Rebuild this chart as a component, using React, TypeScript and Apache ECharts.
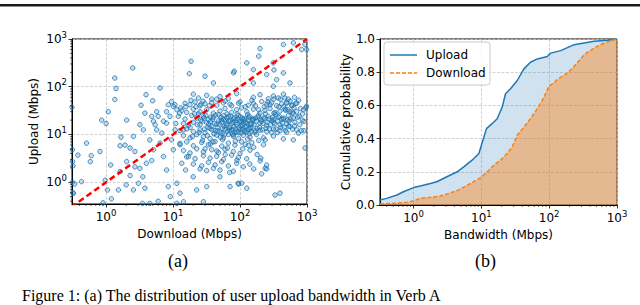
import React, { useEffect, useRef } from "react";
import * as echarts from "echarts";

// ---------- Data ----------
// (a) scatter: [download Mbps, upload Mbps]
const sparsePoints: [number, number][] = [
  [2.5, 248], [1.35, 152], [1.41, 92], [1.35, 54], [18.6, 342], [17.5, 188], [0.31, 37], [0.86, 20],
  [1.08, 30], [1.0, 17], [2.03, 20], [1.67, 8.8], [1.62, 5.8], [3.95, 68], [3.33, 41], [4.97, 51],
  [6.4, 94], [30, 166], [40, 120], [82, 211], [80, 195], [199, 630], [190, 436], [444, 765],
  [625, 830], [832, 601], [933, 765], [314, 316], [126, 316], [158, 228], [250, 180], [352, 141],
  [557, 120], [321, 225], [444, 195], [158, 120], [980, 39], [960, 36], [887, 33], [935, 5.2],
  [900, 18.8], [990, 600],
];
const lowPoints: [number, number][] = [
  [0.43, 1.03], [0.34, 0.92], [0.325, 0.59], [0.58, 2.7], [0.6, 3.6], [0.81, 4.4], [0.97, 1.1],
  [1.05, 0.69], [1.17, 2.3], [1.53, 0.69], [2.0, 0.88], [2.28, 1.38], [2.56, 0.69], [3.04, 0.95],
  [3.53, 1.3], [3.8, 0.75], [3.2, 1.96], [4.0, 2.5], [4.8, 2.85], [5.1, 4.8], [6.4, 6.6], [5.7, 12.5],
  [6.8, 10.7], [8.0, 17.3], [9.0, 24], [10.1, 38.8], [7.2, 19], [9.5, 7.7], [7.2, 3.45], [8.0, 1.8],
  [8.5, 0.81], [9.1, 0.5], [11.4, 0.95], [12.7, 0.59], [14.3, 0.39], [11.4, 0.36], [20, 1.3],
  [22.5, 0.69], [28.4, 0.39], [31.8, 0.81], [50, 1.3], [71, 0.81], [94, 0.95], [106, 0.95],
  [126, 0.75], [237, 1.96], [333, 0.54], [395, 0.59], [204, 3.2], [224, 6.1], [237, 7.7], [250, 2.3],
  [321, 28], [496, 45], [625, 7.7], [744, 10.7], [557, 14.7], [625, 28], [468, 58], [314, 102],
  [0.9, 0.37], [3.5, 0.36], [4.5, 0.36], [1.2, 0.45], [6, 0.4], [0.315, 4.8], [0.315, 2.7],
  [0.315, 1.0], [0.32, 0.6],
];
const leftClusterPoints: [number, number][] = [
  [1.62, 1.67], [1.92, 6.0], [2.56, 9.1], [2.7, 2.1], [3.2, 16], [3.8, 28], [4.5, 7.7], [5.1, 19],
  [4.8, 24], [6.0, 24], [5.7, 30], [5.4, 16], [8.0, 30], [8.5, 42], [9.5, 49], [10.7, 42], [11.4, 33],
  [10.7, 12.5], [10.1, 4.8], [12.7, 6.1], [13.5, 2.5], [15.4, 1.8], [17, 3.45], [14.3, 12.5],
  [3.6, 12.5], [2.7, 4.4], [2.28, 5.2], [2.03, 2.7], [0.51, 6.6], [0.38, 3.7], [0.32, 2.2],
];
const mainClusterPoints: [number, number][] = [
  [20.1, 70], [23.9, 58], [31.8, 66], [37.8, 55], [50.3, 62], [67, 57], [89, 72], [158, 60], [199, 68],
  [265, 56], [315, 64], [373, 58], [444, 70], [526, 55],
  [15.1, 45], [17.9, 42], [21.3, 48], [25.3, 40], [30, 44], [37.8, 47], [44.9, 41], [56.4, 46], [71, 43],
  [100, 48], [133, 41], [158, 45], [211, 49], [250, 42], [297, 46], [352, 40], [419, 44], [498, 47],
  [590, 41], [701, 45],
  [13.5, 32], [16, 29], [20.1, 34], [25.3, 30], [31.8, 33], [40, 28], [50.3, 31], [59.7, 35], [75, 29],
  [89, 33], [126, 30], [158, 34], [199, 28], [236, 32], [281, 35], [333, 29], [395, 31], [470, 34], [557, 30],
  [12, 24], [15.1, 21], [19, 25], [22.6, 22], [28.4, 24], [33.7, 20.5], [40, 23], [47.5, 26], [56.4, 21],
  [67, 24], [79.5, 22], [94.5, 25], [112, 20.5], [133, 23], [158, 21], [188, 25], [223, 22], [265, 24],
  [315, 20.5], [373, 23], [444, 21], [526, 25], [625, 22],
  [14.3, 17], [16.9, 15.5], [20.1, 18], [25.3, 16], [31.8, 17.5], [37.8, 15], [44.9, 16.5], [53.3, 18],
  [63.2, 15.5], [75, 17], [89, 16], [106, 18], [126, 15], [149, 16.5], [199, 17.5], [250, 15.5],
  [315, 18], [395, 16], [498, 17],
  [12.7, 12], [16, 13], [20.1, 11.5], [25.3, 12.5], [30, 11], [35.7, 13.5], [42.4, 12], [50.3, 11.3],
  [59.7, 13], [71, 12], [84, 11], [100, 12.8], [119, 11.6], [141, 13.2], [167, 11.2], [199, 12.3],
  [250, 11.5], [315, 13], [395, 12], [498, 11.2], [701, 12.5],
  [14.3, 9.5], [17.9, 8.5], [22.6, 10], [28.4, 9], [35.7, 8.2], [44.9, 9.7], [56.4, 8.6], [67, 10],
  [79.5, 9.2], [94.5, 8.3], [112, 9.6], [141, 8.8], [177, 10], [223, 8.5], [315, 9.3], [444, 8.1],
  [12.7, 6.5], [16, 7], [20.1, 5.8], [26.8, 6.8], [33.7, 6.1], [42.4, 7.1], [53.3, 5.7], [67, 6.6],
  [84, 6], [106, 7], [133, 5.9],
  [14.3, 4.6], [17.9, 4.1], [22.6, 5], [28.4, 4.3], [37.8, 4.8], [47.5, 4.2], [59.7, 4.9], [79.5, 4.4],
  [100, 4], [141, 4.7],
  [16, 3.4], [21.3, 3.1], [28.4, 3.6], [35.7, 3.2], [44.9, 3.5], [56.4, 3], [75, 3.7], [94.5, 3.3], [126, 3.1],
  [20.1, 2.4], [26.8, 2.2], [33.7, 2.6], [42.4, 2.3], [53.3, 2.7], [67, 2.2], [89, 2.5], [112, 2.1],
  [25.3, 1.9], [31.8, 1.75], [40, 1.95], [50.3, 1.8], [79.5, 1.7],
];
const denseCorePoints: [number, number][] = [
  [27, 19], [29, 22], [33, 14], [36, 18.5], [39, 21], [41, 10.3], [46, 14], [48, 19.5], [52, 23], [54, 10.5],
  [58, 15], [61, 20], [64, 27], [69, 13], [72, 19], [77, 10.2], [81, 14.5], [86, 20], [91, 27], [96, 11],
  [103, 15], [108, 22], [115, 12], [122, 18], [130, 26], [137, 10.4], [145, 14], [152, 19.5], [170, 22],
  [180, 13.5], [210, 19], [240, 27], [275, 13], [300, 19.5], [340, 26], [360, 11], [420, 21], [460, 14],
  [540, 19], [600, 28], [650, 15], [760, 24], [850, 20], [900, 12],
  [11, 17], [12.5, 28], [13, 36], [15.5, 38], [18.5, 52], [22, 38], [24, 27], [26, 43], [28, 50], [35, 40],
  [45, 55], [60, 50], [75, 40], [95, 45], [105, 36], [120, 38], [150, 52], [170, 40], [190, 33], [230, 38],
  [260, 48], [280, 42], [320, 55], [380, 38], [480, 32], [560, 50], [640, 36], [680, 45],
  [120, 6.2], [160, 5.4], [180, 3.8], [200, 2.8], [210, 1.5], [250, 1.9],
];
const extraCorePoints: [number, number][] = [
  [18, 14], [19.5, 9], [21, 27], [23, 16], [24.5, 11], [26, 20], [27.5, 7.5], [29.5, 13], [31, 25],
  [32.5, 9.5], [34, 16.5], [36.5, 23], [38, 12.5], [39.5, 7], [41.5, 17], [43, 25.5], [46.5, 12],
  [49, 16.5], [51, 8.8], [52.5, 20], [55, 13.5], [57, 25], [59, 10], [62, 17], [63.5, 22.5], [65.5, 11.8],
  [68, 19], [70, 14], [73, 24], [76, 12.8], [78, 18], [80, 9.8], [83, 22], [85, 13], [88, 17.8], [90, 11.5],
  [92, 21], [97, 14], [99, 18.5], [101, 23.5], [104, 10.8], [107, 16], [110, 13], [113, 19], [117, 21.5],
  [119, 14.5], [124, 11], [128, 17], [132, 20], [135, 13], [139, 24], [143, 16.5], [147, 11.5], [155, 21],
  [162, 16], [168, 12], [175, 19], [185, 23], [195, 14], [205, 20.5], [215, 12.5], [220, 17], [235, 22],
  [245, 13.5], [255, 18], [270, 21], [285, 16], [295, 11], [310, 23], [330, 17], [345, 13], [365, 19],
  [385, 24], [405, 14], [430, 17.5], [450, 22], [475, 12], [510, 20], [530, 15], [570, 21], [610, 13],
  [660, 18], [720, 23], [780, 16], [820, 12], [860, 27],
  [30, 5], [36, 6.3], [45, 4.5], [55, 7.8], [65, 5.2], [85, 7.2], [110, 5], [130, 8], [150, 6.8], [190, 7.5],
  [60, 3.8], [90, 2.9], [70, 1.6], [140, 2.4], [160, 1.9], [95, 0.92],
  [400, 55], [450, 38], [520, 33], [600, 40], [700, 30], [750, 52], [800, 35], [650, 60],
];
const diagonal: [number, number][] = [[0.3, 0.3], [1000, 1000]];

// (b) CDFs: [bandwidth Mbps, cumulative probability]
const uploadCdf: [number, number][] = [
  [0.32, 0.03], [0.4, 0.04], [0.57, 0.06], [0.71, 0.08], [1.0, 0.105], [1.26, 0.115], [1.77, 0.13],
  [2.2, 0.14], [3.1, 0.17], [4.4, 0.2], [5.5, 0.23], [7.3, 0.27], [9.2, 0.31], [10, 0.36], [10.9, 0.41],
  [11.9, 0.46], [14.4, 0.49], [17.1, 0.52], [20.3, 0.59], [22.7, 0.67], [26.9, 0.7], [33.8, 0.75],
  [42.4, 0.82], [53, 0.86], [66.7, 0.88], [93.8, 0.895], [105, 0.915], [148, 0.93], [233, 0.966],
  [327, 0.976], [460, 0.986], [724, 0.992], [1000, 1.0],
];
const downloadCdf: [number, number][] = [
  [0.32, 0.006], [0.51, 0.01], [0.8, 0.016], [1.0, 0.026], [1.25, 0.04], [1.77, 0.046], [2.48, 0.054],
  [3.1, 0.066], [4.4, 0.087], [6.2, 0.119], [8.6, 0.151], [10.2, 0.171], [12.2, 0.2], [15.3, 0.24],
  [19.1, 0.27], [24, 0.31], [28.5, 0.35], [33.8, 0.42], [42.4, 0.47], [53, 0.52], [66.7, 0.58],
  [79, 0.63], [99, 0.714], [132, 0.755], [185, 0.795], [233, 0.835], [327, 0.905], [460, 0.946],
  [646, 0.976], [859, 0.992], [1000, 1.0],
];
const legendLabels = ["Upload", "Download"];

const A_XMIN = 0.31;
const A_YMIN = 0.35;
const B_XMIN = 0.32;
const LOG_MAX = 1000;
const minorMultipliers = [2, 3, 4, 5, 6, 7, 8, 9];
const decades = [0.1, 1, 10, 100];

const FONT = "DejaVu Sans";
const BLUE = "#1f77b4";
const ORANGE = "#ff7f0e";

function minorTicks(min: number, max: number): number[] {
  const out: number[] = [];
  decades.forEach((d) => minorMultipliers.forEach((m) => {
    const v = d * m;
    if (v > min && v < max) out.push(v);
  }));
  return out;
}

const pow10Label = (v: number) => {
  const e = Math.log10(v);
  const r = Math.round(e);
  if (Math.abs(e - r) > 1e-3) return "";
  return `{b|10}{s|${r}}`;
};

const powRich = {
  b: { fontSize: 12, lineHeight: 18, fontFamily: FONT, color: "#000" },
  s: { fontSize: 8.5, lineHeight: 8, verticalAlign: "top", fontFamily: FONT, color: "#000" },
};

const gridLine = { show: true, lineStyle: { color: "#c8c8c8", width: 0.8, type: [3, 1.5] } };
const axisLine = { show: true, lineStyle: { color: "#000", width: 1 } };
const axisTick = { show: true, length: 3.5, lineStyle: { color: "#000", width: 0.8 } };
const nameStyle = { fontSize: 12, fontFamily: FONT, color: "#000" };

function minorTickSeries(axisIndex: number, values: number[], vertical: boolean, refX: number, refY: number) {
  return {
    type: "custom",
    xAxisIndex: axisIndex,
    yAxisIndex: axisIndex,
    silent: true,
    clip: false,
    z: 5,
    data: values.map((v) => (vertical ? [refX, v] : [v, refY])),
    renderItem: (params: any, api: any) => {
      const cs = params.coordSys;
      if (vertical) {
        const y = api.coord([refX, api.value(1)])[1];
        return { type: "line", shape: { x1: cs.x - 2, y1: y, x2: cs.x, y2: y }, style: { stroke: "#000", lineWidth: 0.6 } };
      }
      const x = api.coord([api.value(0), refY])[0];
      const yb = cs.y + cs.height;
      return { type: "line", shape: { x1: x, y1: yb, x2: x, y2: yb + 2 }, style: { stroke: "#000", lineWidth: 0.6 } };
    },
  };
}

export default function App() {
  const ref = useRef<HTMLDivElement>(null);
  useEffect(() => {
    if (!ref.current) return;
    const chart = echarts.init(ref.current, undefined, { renderer: "svg" });
    const allPoints = [
      ...sparsePoints, ...lowPoints, ...leftClusterPoints, ...mainClusterPoints, ...denseCorePoints, ...extraCorePoints,
    ];
    const option: any = {
      animation: false,
      backgroundColor: "#fff",
      grid: [
        { left: 72, top: 39, width: 235, height: 165, show: true, borderColor: "#000", borderWidth: 1, backgroundColor: "transparent" },
        { left: 380, top: 39, width: 237, height: 166, show: true, borderColor: "#000", borderWidth: 1, backgroundColor: "transparent" },
      ],
      xAxis: [
        {
          type: "log", gridIndex: 0, min: A_XMIN, max: LOG_MAX, logBase: 10,
          name: "Download (Mbps)", nameLocation: "middle", nameGap: 20, nameTextStyle: nameStyle,
          axisLine, axisTick, splitLine: gridLine,
          axisLabel: { formatter: pow10Label, rich: powRich, margin: 4, showMinLabel: false },
        },
        {
          type: "log", gridIndex: 1, min: B_XMIN, max: LOG_MAX, logBase: 10,
          name: "Bandwidth (Mbps)", nameLocation: "middle", nameGap: 20, nameTextStyle: nameStyle,
          axisLine, axisTick, splitLine: gridLine,
          axisLabel: { formatter: pow10Label, rich: powRich, margin: 4, showMinLabel: false },
        },
      ],
      yAxis: [
        {
          type: "log", gridIndex: 0, min: A_YMIN, max: LOG_MAX, logBase: 10,
          name: "Upload (Mbps)", nameLocation: "middle", nameGap: 32, nameTextStyle: nameStyle,
          axisLine, axisTick, splitLine: gridLine,
          axisLabel: { formatter: pow10Label, rich: powRich, margin: 5, showMinLabel: false },
        },
        {
          type: "value", gridIndex: 1, min: 0, max: 1, interval: 0.2,
          name: "Cumulative probability", nameLocation: "middle", nameGap: 27, nameTextStyle: nameStyle,
          axisLine, axisTick, splitLine: gridLine,
          axisLabel: { formatter: (v: number) => v.toFixed(1), fontSize: 12, fontFamily: FONT, color: "#000", margin: 5 },
        },
      ],
      series: [
        {
          type: "scatter", xAxisIndex: 0, yAxisIndex: 0, data: allPoints, symbol: "circle", symbolSize: 4.5,
          itemStyle: { color: "rgba(31,119,180,0.3)", borderColor: BLUE, borderWidth: 1 },
          silent: true, z: 2,
        },
        {
          type: "line", xAxisIndex: 0, yAxisIndex: 0, data: diagonal, symbol: "none", silent: true, z: 3,
          lineStyle: { color: "#ff0000", width: 2.5, type: [6, 3.5] },
        },
        {
          name: legendLabels[0], type: "line", xAxisIndex: 1, yAxisIndex: 1, data: uploadCdf, symbol: "none", z: 2,
          lineStyle: { color: BLUE, width: 1.5 }, itemStyle: { color: BLUE },
          areaStyle: { color: "rgba(31,119,180,0.3)", origin: "start" },
        },
        {
          name: legendLabels[1], type: "line", xAxisIndex: 1, yAxisIndex: 1, data: downloadCdf, symbol: "none", z: 3,
          lineStyle: { color: ORANGE, width: 1.5, type: [4, 2] }, itemStyle: { color: ORANGE },
          areaStyle: { color: "rgba(255,127,14,0.6)", origin: "start" },
        },
        minorTickSeries(0, minorTicks(A_XMIN, LOG_MAX), false, 1, 1),
        minorTickSeries(0, minorTicks(A_YMIN, LOG_MAX), true, 1, 1),
        minorTickSeries(1, minorTicks(B_XMIN, LOG_MAX), false, 1, 0.5),
      ],
      graphic: [
        { type: "rect", left: 0, top: 4, shape: { width: 640, height: 2.5 }, style: { fill: "#1a1a1a" }, silent: true },
        // legend of (b)
        {
          type: "rect", x: 384, y: 42, z: 100, shape: { width: 106, height: 43, r: 3 },
          style: { fill: "rgba(255,255,255,0.8)", stroke: "#cccccc", lineWidth: 1 },
        },
        { type: "line", z: 101, shape: { x1: 390, y1: 55, x2: 417, y2: 55 }, style: { stroke: BLUE, lineWidth: 1.5 } },
        { type: "line", z: 101, shape: { x1: 390, y1: 73, x2: 417, y2: 73 }, style: { stroke: ORANGE, lineWidth: 1.5, lineDash: [4, 2] } },
        {
          type: "text", x: 426, y: 55, z: 101,
          style: { text: legendLabels[0], font: `12px '${FONT}'`, fill: "#000", verticalAlign: "middle", align: "left" },
        },
        {
          type: "text", x: 426, y: 73, z: 101,
          style: { text: legendLabels[1], font: `12px '${FONT}'`, fill: "#000", verticalAlign: "middle", align: "left" },
        },
        { type: "text", left: 168, top: 252, style: { text: "(a)", font: "18px 'Liberation Serif'", fill: "#000" } },
        { type: "text", left: 475, top: 252, style: { text: "(b)", font: "18px 'Liberation Serif'", fill: "#000" } },
        {
          type: "text", left: 22, top: 287,
          style: { text: "Figure 1: (a) The distribution of user upload bandwidth in Verb A", font: "16px 'Liberation Serif'", fill: "#000" },
        },
      ],
    };
    chart.setOption(option);
    return () => chart.dispose();
  }, []);
  return <div ref={ref} style={{ position: "absolute", left: 0, top: 0, width: 640, height: 305 }} />;
}
